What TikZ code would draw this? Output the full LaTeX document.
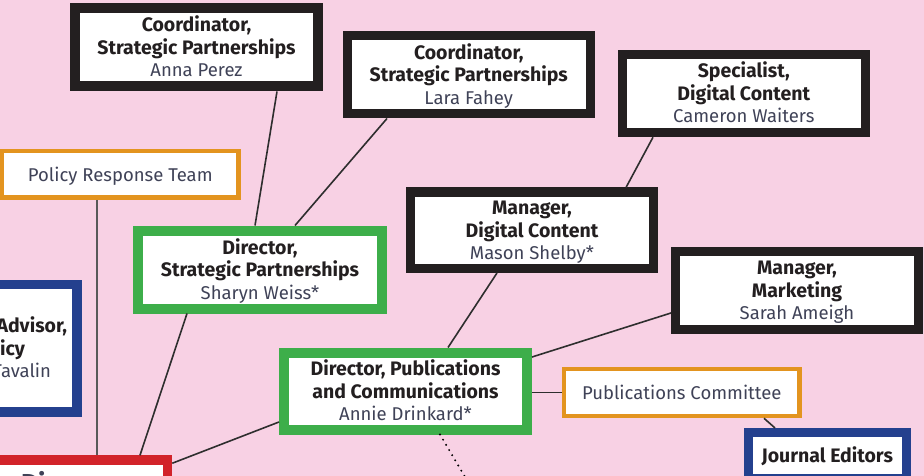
\documentclass[tikz,border=0pt]{standalone}
\usepackage{fontspec}
\setmainfont{Fira Sans}

\definecolor{bgpink}{HTML}{F8D1E4}
\definecolor{titlec}{HTML}{231F20}
\definecolor{namec}{HTML}{3F4257}
\definecolor{boxblack}{HTML}{231F20}
\definecolor{boxgreen}{HTML}{3DAE4A}
\definecolor{boxorange}{HTML}{E3941F}
\definecolor{boxblue}{HTML}{24408E}
\definecolor{boxred}{HTML}{D2232A}
\definecolor{linec}{HTML}{2E2E2E}

% struts: top of first line, bottom of last line
\newcommand{\hd}{\rule{0pt}{20pt}}
\newcommand{\ft}{\rule[-6pt]{0pt}{6pt}}
\newcommand{\who}[1]{\\{\fontsize{18.5}{22.5}\selectfont\mdseries\color{namec}#1\ft}}

\tikzset{
  box/.style={draw=boxblack, fill=white, line width=9.5pt, inner sep=0pt, align=center,
    minimum width=243pt, minimum height=78pt, text=titlec,
    font=\fontsize{19.5}{22.5}\selectfont\bfseries},
  greenbox/.style={box, draw=boxgreen, line width=10pt},
  bluebox/.style={box, draw=boxblue},
  redbox/.style={box, draw=boxred},
  teambox/.style={box, draw=boxorange, line width=4.5pt, minimum height=47pt,
    text=namec, font=\fontsize{18.5}{22.5}\selectfont},
  link/.style={draw=linec, line width=1.6pt},
}

\begin{document}
\begin{tikzpicture}[x=1pt, y=-1pt]

\useasboundingbox (0,0) rectangle (924,476);
\clip (0,0) rectangle (924,476);
\fill [bgpink] (0,0) rectangle (924,476);

\node [box, line width=10pt] (v1) at (196.5,47.5) {\hd Coordinator,\\Strategic Partnerships\who{Anna Perez}};
\node [box, line width=9pt] (v2) at (468.75,75) {\hd Coordinator,\\Strategic Partnerships\who{Lara Fahey}};
\node [box] (v3) at (743.75,93.5) {\hd Specialist,\\Digital Content\who{Cameron Waiters}};
\node [teambox, minimum width=236.5pt, minimum height=46.5pt] (v4) at (120.25,174.25) {\hd Policy Response Team\ft};
\node [greenbox, minimum width=244pt] (v5) at (260,269.5) {\hd Director,\\Strategic Partnerships\who{Sharyn Weiss*}};
\node [box, line width=9pt, minimum height=76.5pt] (v6) at (532,230.25) {\hd Manager,\\Digital Content\who{Mason Shelby*}};
\node [box, line width=9pt] (v7) at (797,290) {\hd Manager,\\Marketing\who{Sarah Ameigh}};
\node [greenbox, minimum height=77pt] (v8) at (405.5,391) {\hd Director, Publications\\and Communications\who{Annie Drinkard*}};
\node [teambox, minimum width=235.5pt] (v9) at (681.75,392.5) {\hd Publications Committee\ft};
\node [bluebox, line width=9pt, minimum width=157.5pt, minimum height=46pt] (v10) at (827.25,455.5) {\hd Journal Editors\ft};

% boxes cut by the page edge
\node [bluebox, minimum height=127.5pt, text width=223pt, align=right] (v11) at (-44.5,348.25)
  {\hd Advisor,\\icy\makebox[42pt]{}\who{Tavalin}\makebox[16pt]{}};
\node [redbox, minimum width=300pt, minimum height=100pt] (v12) at (17.5,510) {};
\node [anchor=base west, inner sep=0pt, text=namec, font=\fontsize{26}{30}\selectfont\bfseries] (v13) at (21,492) {Di};

\coordinate (v14) at (468,482);

\draw [link] ([xshift=80.5]v1.south) -- ([xshift=-5]v5.north);
\draw [link] ([xshift=-81.75]v2.south) -- ([xshift=35]v5.north);
\draw [link] ([xshift=-90.75]v3.south) -- ([xshift=94]v6.north);
\draw [link] ([xshift=-35]v6.south) -- ([xshift=42.5]v8.north);
\draw [link] ([yshift=-23]v7.west) -- ([yshift=34]v8.east);
\draw [link] (v9.west -| v8.east) -- (v9.west);
\draw [link] ([xshift=82.25]v9.south) -- ([xshift=-52.25]v10.north);
\draw [link, draw=black!65] ([xshift=-23.25]v4.south) -- ([xshift=-23.25]v4.south |- v12.north);
\draw [link] ([xshift=-73]v5.south) -- ([xshift=122.5]v12.north);
\draw [link] ([yshift=-31]v8.west) -- ([yshift=-8]v12.north east);
\draw [link, draw=black, line width=2.2pt, line cap=round, dash pattern=on 0pt off 6pt] ([xshift=34.5]v8.south) -- (v14);

\end{tikzpicture}
\end{document}
